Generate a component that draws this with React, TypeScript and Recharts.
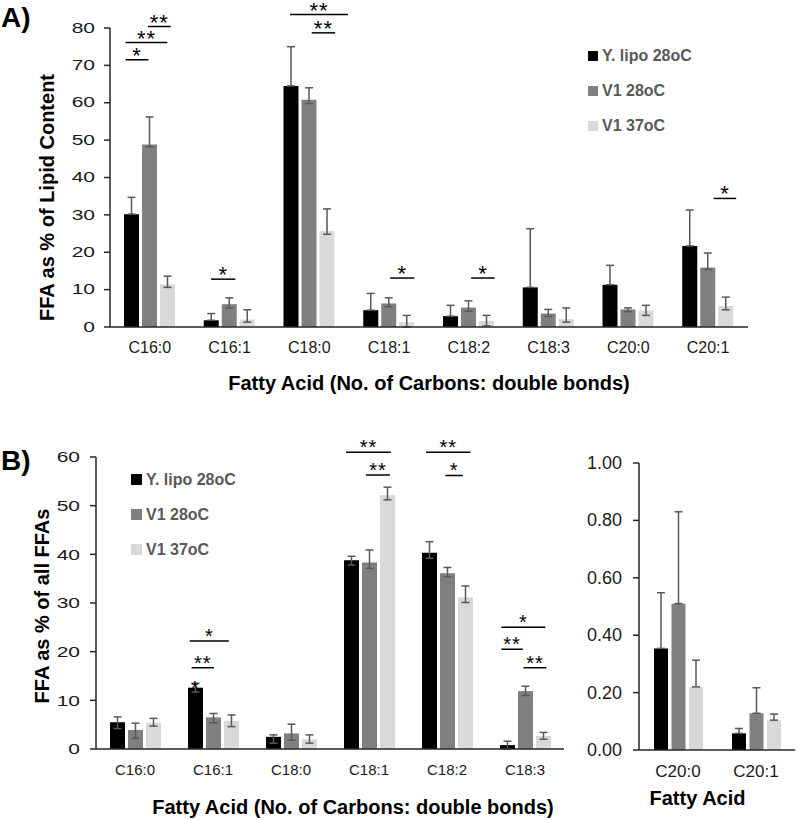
import { BarChart, Bar, XAxis, YAxis, ErrorBar, ReferenceLine, ReferenceDot, Legend, Label } from 'recharts'

const FONT = '"Liberation Sans", Arial, Helvetica, sans-serif'
const INK = '#1a1a1a'
const AXIS = '#262626'
const ERR = '#595959'
const COLORS = ['#000000', '#808080', '#d9d9d9']
const SERIES = ['Y. lipo 28oC', 'V1 28oC', 'V1 37oC']

// A) FFA as % of lipid content
const acidsA = ['C16:0', 'C16:1', 'C18:0', 'C18:1', 'C18:2', 'C18:3', 'C20:0', 'C20:1']
const lipoA = [30.2, 1.8, 64.5, 4.5, 2.9, 10.6, 11.3, 21.7]
const lipoLoA = [0, 0, 0, 0, 0, 0, 0, 0]
const lipoHiA = [4.5, 1.8, 10.5, 4.5, 2.9, 15.7, 5.2, 9.6]
const v28A = [48.8, 6.1, 60.8, 6.3, 5.2, 3.6, 4.7, 15.9]
const v28LoA = [0.6, 1.0, 1.0, 0.9, 1.0, 0.8, 0.6, 0.5]
const v28HiA = [7.4, 1.7, 3.2, 1.5, 1.8, 1.1, 0.4, 3.9]
const v37A = [11.4, 2.0, 25.7, 1.3, 1.6, 2.1, 4.4, 5.6]
const v37LoA = [0.8, 0.7, 0.9, 1.3, 1.3, 0.8, 1.3, 1.0]
const v37HiA = [2.2, 2.6, 5.9, 1.8, 1.5, 3.0, 1.4, 2.4]
const ticksA = [0, 10, 20, 30, 40, 50, 60, 70, 80]

// B) FFA as % of all FFAs
const acidsB = ['C16:0', 'C16:1', 'C18:0', 'C18:1', 'C18:2', 'C18:3']
const lipoB = [5.5, 12.6, 2.5, 38.8, 40.3, 0.8]
const lipoLoB = [1.3, 0.9, 1.3, 1.0, 1.1, 0.8]
const lipoHiB = [1.1, 0.9, 0.4, 0.8, 2.3, 0.8]
const v28B = [3.9, 6.5, 3.2, 38.3, 36.1, 11.9]
const v28LoB = [1.7, 1.1, 1.4, 1.2, 0.7, 0.9]
const v28HiB = [1.4, 0.8, 1.9, 2.6, 1.2, 1.0]
const v37B = [5.4, 5.8, 2.0, 52.2, 31.2, 2.7]
const v37LoB = [0.7, 1.2, 0.8, 1.0, 1.1, 0.7]
const v37HiB = [0.9, 1.2, 0.9, 1.6, 2.3, 0.7]
const ticksB = [0, 10, 20, 30, 40, 50, 60]

// B) right: C20 acids
const acidsC = ['C20:0', 'C20:1']
const lipoC = [0.354, 0.058]
const lipoHiC = [0.194, 0.017]
const v28C = [0.51, 0.128]
const v28HiC = [0.32, 0.089]
const v37C = [0.22, 0.104]
const v37HiC = [0.093, 0.021]
const zerosC = [0, 0]
const ticksC = [0, 0.2, 0.4, 0.6, 0.8, 1.0]

// significance bars: from/to in bar pitches from the category centre, y in data units
type Bracket = { cat: number; from: number; to: number; y: number; text: string }
type Star = { cat: number; at: number; y: number }

const bracketsA: Bracket[] = [
  { cat: 0, from: -1.35, to: -0.08, y: 71.5, text: '*' },
  { cat: 0, from: -1.35, to: 0.97, y: 76.1, text: '**' },
  { cat: 0, from: -0.11, to: 1.16, y: 80.4, text: '**' },
  { cat: 1, from: -1.03, to: 0.32, y: 12.8, text: '*' },
  { cat: 2, from: -1.07, to: 2.14, y: 83.6, text: '**' },
  { cat: 2, from: 0.13, to: 1.43, y: 78.7, text: '**' },
  { cat: 3, from: 0.06, to: 1.4, y: 13.1, text: '*' },
  { cat: 4, from: 0.13, to: 1.43, y: 13.1, text: '*' },
  { cat: 7, from: 0.31, to: 1.56, y: 34.4, text: '*' },
]

const bracketsB: Bracket[] = [
  { cat: 1, from: -1.29, to: 0.88, y: 22.2, text: '*' },
  { cat: 1, from: -1.19, to: 0.05, y: 16.7, text: '**' },
  { cat: 3, from: -1.27, to: 1.21, y: 61.0, text: '**' },
  { cat: 3, from: -0.17, to: 1.17, y: 56.3, text: '**' },
  { cat: 4, from: -1.16, to: 1.3, y: 61.0, text: '**' },
  { cat: 4, from: -0.09, to: 0.88, y: 56.2, text: '*' },
  { cat: 5, from: -1.31, to: 1.13, y: 25.0, text: '*' },
  { cat: 5, from: -1.31, to: -0.12, y: 20.5, text: '**' },
  { cat: 5, from: -0.08, to: 1.19, y: 16.7, text: '**' },
]
const starsB: Star[] = [{ cat: 1, at: -1, y: 12.6 }]

function buildRows(cats: string[], vals: number[][], lo: number[][], hi: number[][]) {
  return cats.map((name, i) => ({
    name,
    idx: i,
    s0: vals[0][i], e0: [lo[0][i], hi[0][i]],
    s1: vals[1][i], e1: [lo[1][i], hi[1][i]],
    s2: vals[2][i], e2: [lo[2][i], hi[2][i]],
  }))
}

const rowsA = buildRows(acidsA, [lipoA, v28A, v37A], [lipoLoA, v28LoA, v37LoA], [lipoHiA, v28HiA, v37HiA])
const rowsB = buildRows(acidsB, [lipoB, v28B, v37B], [lipoLoB, v28LoB, v37LoB], [lipoHiB, v28HiB, v37HiB])
const rowsC = buildRows(acidsC, [lipoC, v28C, v37C], [zerosC, zerosC, zerosC], [lipoHiC, v28HiC, v37HiC])

function HTitle({ vb, text, dx, off, fs }: any) {
  const x = vb.x + vb.width / 2 + dx
  const y = vb.y + vb.height + off
  return (
    <text x={x} y={y} textAnchor="middle" fontSize={fs} fontWeight="bold" fontFamily={FONT} fill="#000">
      {text}
    </text>
  )
}

function VTitle({ vb, text, dx, dy, fs }: any) {
  const x = vb.x + dx
  const y = vb.y + vb.height / 2 + dy
  return (
    <text x={x} y={y} transform={`rotate(-90, ${x}, ${y})`} textAnchor="middle" dominantBaseline="central"
      fontSize={fs} fontWeight="bold" fontFamily={FONT} fill="#000">
      {text}
    </text>
  )
}

function LegendBox({ payload, box }: any) {
  const items = [...(payload || [])].sort((a: any, b: any) => SERIES.indexOf(a.value) - SERIES.indexOf(b.value))
  return (
    <div>
      {items.map((e: any) => (
        <div key={e.value} style={{ display: 'flex', alignItems: 'center', height: 35 }}>
          <span style={{ width: box, height: box, background: e.color, marginRight: 4, display: 'inline-block' }} />
          <span style={{ fontFamily: FONT, fontWeight: 'bold', fontSize: 16, color: '#595959', whiteSpace: 'nowrap' }}>{e.value}</span>
        </div>
      ))}
    </div>
  )
}

interface PanelProps {
  width: number
  height: number
  margin: { top: number; right: number; bottom: number; left: number }
  yWidth: number
  cats: string[]
  rows: any[]
  domain: [number, number]
  ticks: number[]
  fmt: (v: number) => string
  yFont: number
  yScale: number
  yMargin: number
  xFont: number
  barSize: number
  barGap: number
  brackets?: Bracket[]
  stars?: Star[]
  starFont?: number
  starOffset?: number
  legend?: { left: number; top: number; box: number }
  xTitle: string
  xTitleDx: number
  xTitleOff: number
  yTitle?: string
  yTitleDx?: number
  yTitleDy?: number
}

function Panel(p: PanelProps) {
  const plotW = p.width - p.margin.left - p.margin.right - p.yWidth
  const band = plotW / p.cats.length
  const pitch = p.barSize + p.barGap
  // position on the hidden numeric axis, where category i spans [i, i+1]
  const pos = (cat: number, at: number) => cat + 0.5 + (at * pitch) / band

  const yTick = (t: any) => (
    <text transform={`translate(${t.x},${t.y}) scale(${p.yScale},1)`} textAnchor="end" dominantBaseline="central"
      fontSize={p.yFont} fontFamily={FONT} fill={INK}>
      {p.fmt(t.payload.value)}
    </text>
  )

  return (
    <BarChart width={p.width} height={p.height} data={p.rows} margin={p.margin} barSize={p.barSize} barGap={p.barGap}>
      <XAxis dataKey="name" height={30} interval={0} axisLine={{ stroke: AXIS, strokeWidth: 1.5 }} tickLine={false}
        tickMargin={9} tick={{ fontSize: p.xFont, fill: INK, fontFamily: FONT }}>
        <Label content={(lp: any) => <HTitle vb={lp.viewBox} text={p.xTitle} dx={p.xTitleDx} off={p.xTitleOff} fs={20} />} />
      </XAxis>
      <XAxis xAxisId="n" dataKey="idx" type="number" domain={[0, p.cats.length]} hide allowDataOverflow />
      <YAxis width={p.yWidth} domain={p.domain} ticks={p.ticks} interval={0} allowDataOverflow
        axisLine={{ stroke: AXIS, strokeWidth: 1.5 }} tickLine={{ stroke: AXIS, strokeWidth: 1.5 }} tickSize={6}
        tickMargin={p.yMargin} tick={yTick}>
        {p.yTitle && (
          <Label content={(lp: any) => <VTitle vb={lp.viewBox} text={p.yTitle} dx={p.yTitleDx} dy={p.yTitleDy} fs={20} />} />
        )}
      </YAxis>
      {SERIES.map((name, k) => (
        <Bar key={name} dataKey={`s${k}`} name={name} fill={COLORS[k]} isAnimationActive={false}>
          <ErrorBar dataKey={`e${k}`} width={4} stroke={ERR} strokeWidth={1.5} direction="y" isAnimationActive={false} />
        </Bar>
      ))}
      {(p.brackets || []).map((b, i) => (
        <ReferenceLine key={`b${i}`} xAxisId="n" ifOverflow="visible" stroke="#000" strokeWidth={1.5}
          segment={[{ x: pos(b.cat, b.from), y: b.y }, { x: pos(b.cat, b.to), y: b.y }]}
          label={{ value: b.text, position: 'top', offset: p.starOffset, fontSize: p.starFont, fill: '#000', fontFamily: FONT, letterSpacing: 1 }} />
      ))}
      {(p.stars || []).map((s, i) => (
        <ReferenceDot key={`s${i}`} xAxisId="n" ifOverflow="visible" x={pos(s.cat, s.at)} y={s.y} r={1} fill="none" stroke="none"
          label={{ value: '*', position: 'center', fontSize: p.starFont, fill: '#000', fontFamily: FONT }} />
      ))}
      {p.legend && (
        <Legend layout="vertical" align="center" verticalAlign="middle"
          wrapperStyle={{ left: p.legend.left, top: p.legend.top, width: 160 }}
          content={(lp: any) => <LegendBox payload={lp.payload} box={p.legend!.box} />} />
      )}
    </BarChart>
  )
}

const panelLabel = (top: number): React.CSSProperties => ({
  position: 'absolute', left: 1, top, fontFamily: FONT, fontWeight: 700, fontSize: 28, lineHeight: 'normal', color: '#000',
})

export default function App() {
  return (
    <div style={{ position: 'absolute', left: 0, top: 0, width: 797, height: 820, background: '#fff', overflow: 'hidden' }}>
      <div style={{ position: 'absolute', left: 0, top: 0 }}>
        <Panel width={797} height={400} margin={{ top: 28, right: 49, bottom: 43, left: 50 }} yWidth={60}
          cats={acidsA} rows={rowsA} domain={[0, 80]} ticks={ticksA} fmt={(v) => String(v)}
          yFont={14} yScale={1.5} yMargin={9} xFont={16} barSize={15} barGap={3}
          brackets={bracketsA} starFont={22} starOffset={-3}
          legend={{ left: 588, top: 38, box: 10 }}
          xTitle="Fatty Acid (No. of Carbons: double bonds)" xTitleDx={0} xTitleOff={33}
          yTitle="FFA as % of Lipid Content" yTitleDx={-3} yTitleDy={20} />
      </div>
      <div style={{ position: 'absolute', left: 0, top: 420 }}>
        <Panel width={580} height={400} margin={{ top: 37, right: 16, bottom: 41, left: 46 }} yWidth={50}
          cats={acidsB} rows={rowsB} domain={[0, 60]} ticks={ticksB} fmt={(v) => String(v)}
          yFont={15} yScale={1.4} yMargin={10} xFont={15} barSize={15} barGap={3}
          brackets={bracketsB} stars={starsB} starFont={20} starOffset={-2}
          legend={{ left: 131, top: 42, box: 11 }}
          xTitle="Fatty Acid (No. of Carbons: double bonds)" xTitleDx={23} xTitleOff={35}
          yTitle="FFA as % of all FFAs" yTitleDx={-4.5} yTitleDy={3} />
      </div>
      <div style={{ position: 'absolute', left: 580, top: 420 }}>
        <Panel width={217} height={400} margin={{ top: 43, right: 2, bottom: 40, left: 9 }} yWidth={50}
          cats={acidsC} rows={rowsC} domain={[0, 1]} ticks={ticksC} fmt={(v) => v.toFixed(2)}
          yFont={18} yScale={1} yMargin={11} xFont={17} barSize={14} barGap={3.5}
          xTitle="Fatty Acid" xTitleDx={-19.5} xTitleOff={24.5} />
      </div>
      <div style={panelLabel(2)}>A)</div>
      <div style={panelLabel(445)}>B)</div>
    </div>
  )
}
